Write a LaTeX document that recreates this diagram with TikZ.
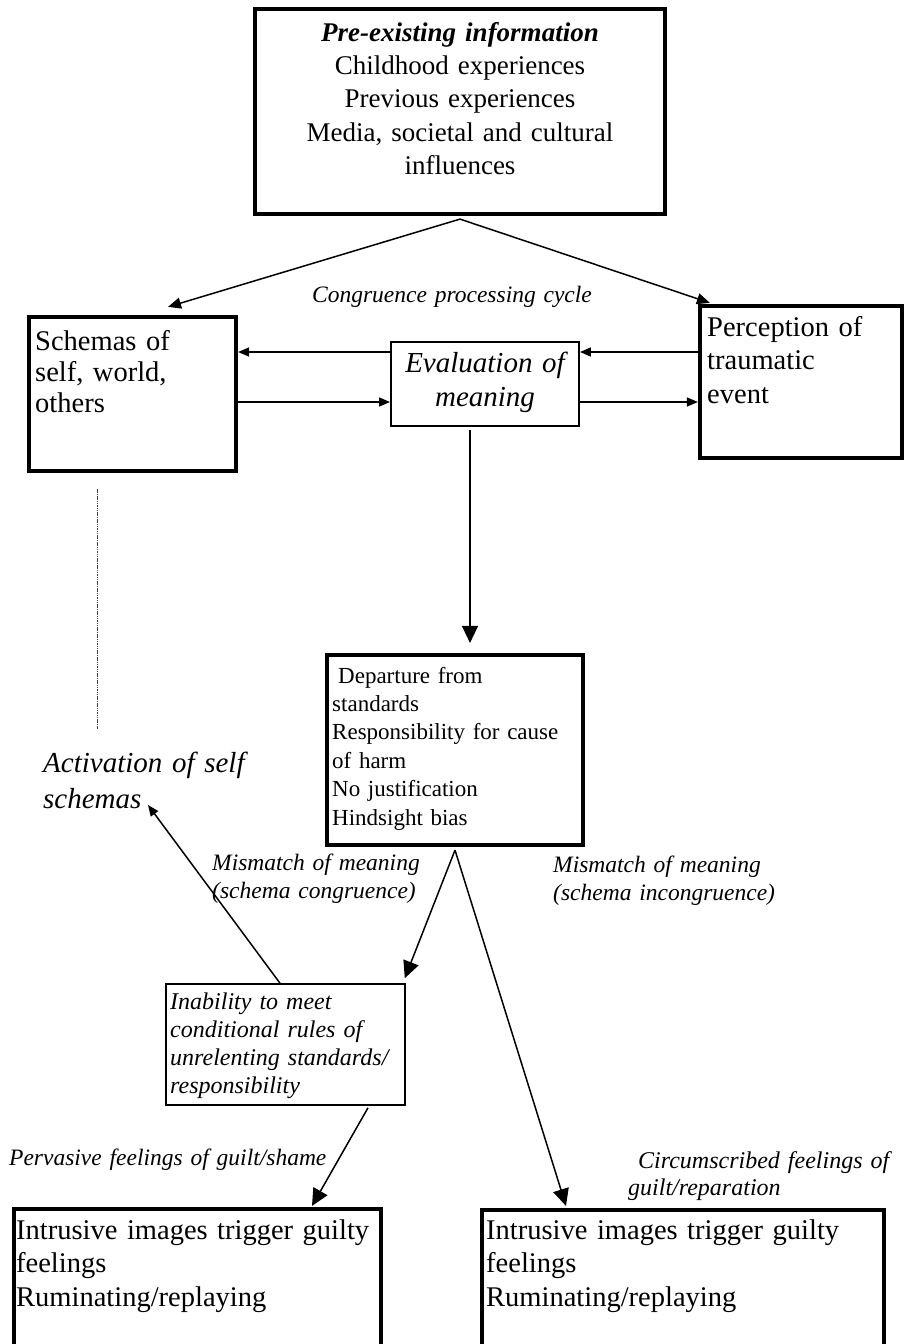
\documentclass[tikz,border=0pt]{standalone}
\usepackage{fontspec}
\setmainfont{Liberation Serif}
\usetikzlibrary{arrows.meta,calc}
\begin{document}
\begin{tikzpicture}[x=1pt,y=-1pt,
  thickbox/.style={draw, line width=4.2pt, inner sep=0pt, fill=none},
  thinbox/.style={draw, line width=1.9pt, inner sep=0pt},
  lbl/.style={inner sep=0pt, anchor=base west, align=left, text width=#1},
  lbl/.default=400pt,
  fbig/.style={font=\fontsize{28.5}{33.5}\selectfont},
  fsmall/.style={font=\fontsize{23}{28.4}\selectfont},
  fsmallit/.style={font=\fontsize{23.5}{28.6}\selectfont\itshape},
  conn/.style={line width=1.5pt},
  bigarr/.style={conn, -{Triangle[length=17pt,width=16pt]}},
  midarr/.style={conn, -{Triangle[length=13pt,width=11pt]}},
  smallarr/.style={conn, -{Triangle[length=11pt,width=9pt]}}
]
\useasboundingbox (0,0) rectangle (906,1344);
\clip (0,0) rectangle (906,1344);
\fill[white] (0,0) rectangle (906,1344);

% boxes
\node[thickbox, minimum width=410pt, minimum height=205pt] (top) at (460,111.5) {};
\node[thickbox, minimum width=207pt, minimum height=154pt] (schemas) at (132.5,394) {};
\node[thinbox, minimum width=188pt, minimum height=84pt] (eval) at (485,384) {};
\node[thickbox, minimum width=202pt, minimum height=152pt] (perception) at (801,382) {};
\node[thickbox, minimum width=256pt, minimum height=190pt] (departure) at (455,750) {};
\node[thinbox, line width=1.6pt, minimum width=239pt, minimum height=121pt] (inability) at (285.5,1044.5) {};
\node[thickbox, minimum width=367pt, minimum height=191pt] (bl) at (197.5,1304.5) {};
\node[thickbox, minimum width=402pt, minimum height=190pt] (br) at (683,1305) {};

% texts
\node[lbl=420pt, font=\fontsize{27}{33.4}\selectfont, align=center, anchor=base] (toptxt) at (460,41)
  {\textbf{\textit{Pre-existing information}}\\Childhood experiences\\Previous experiences\\Media, societal and cultural\\influences};
\node[lbl=200pt, font=\fontsize{28.5}{31}\selectfont] (schtxt) at (35,350) {Schemas of\\self, world,\\others};
\node[lbl=195pt, fbig] (pertxt) at (707,336) {Perception of\\traumatic\\event};
\node[lbl=185pt, font=\fontsize{29}{34}\selectfont\itshape, align=center, anchor=base] (evaltxt) at (485,372) {Evaluation of\\meaning};
\node[lbl=300pt, font=\fontsize{23.5}{28}\selectfont\itshape, align=center, anchor=base] (cong) at (452,302) {Congruence processing cycle};
\node[lbl=250pt, fsmall] (deptxt) at (332,683)
  {\hspace*{6pt}Departure from\\standards\\Responsibility for cause\\of harm\\No justification\\Hindsight bias};
\node[lbl=260pt, font=\fontsize{29}{36}\selectfont\itshape] (act) at (43,772) {Activation of self\\schemas};
\node[lbl=230pt, fsmallit] (mml) at (212,870) {Mismatch of meaning\\(schema congruence)};
\node[lbl=260pt, fsmallit] (mmr) at (553,872) {Mismatch of meaning\\(schema incongruence)};
\node[lbl=235pt, font=\fontsize{24}{28}\selectfont\itshape] (inabtxt) at (170,1009)
  {Inability to meet\\conditional rules of\\unrelenting standards/\\responsibility};
\node[lbl=340pt, fsmallit] (perv) at (9,1165) {Pervasive feelings of guilt/shame};
\node[lbl=275pt, font=\fontsize{24}{27}\selectfont\itshape] (circ) at (628,1168) {\hspace*{10pt}Circumscribed feelings of\\guilt/reparation};
\node[lbl=365pt, fbig] (bltxt) at (16,1239) {Intrusive images trigger guilty\\feelings\\Ruminating/replaying};
\node[lbl=395pt, fbig] (brtxt) at (486,1239) {Intrusive images trigger guilty\\feelings\\Ruminating/replaying};

% connectors
\coordinate (apex) at ([yshift=-3pt]top.south);
\draw[midarr] (apex) -- ([xshift=35.5pt,yshift=8pt]schemas.north);
\draw[midarr] (apex) -- ([xshift=12pt,yshift=1pt]perception.north west);

\coordinate (eu) at ([yshift=32pt]eval.west);
\coordinate (el) at ([yshift=-18pt]eval.west);
\coordinate (eur) at ([yshift=32pt]eval.east);
\coordinate (elr) at ([yshift=-18pt]eval.east);
\draw[smallarr] (eu) -- (eu -| schemas.east);
\draw[smallarr] (el -| schemas.east) -- (el);
\draw[smallarr] (eur -| perception.west) -- (eur);
\draw[smallarr] (elr) -- (elr -| perception.west);

\draw[bigarr] ([xshift=-15pt,yshift=-3pt]eval.south) -- ([xshift=15pt,yshift=10pt]departure.north);

\coordinate (apex2) at ([yshift=-3pt]departure.south);
\draw[bigarr] (apex2) -- ([xshift=-1pt,yshift=5pt]inability.north east);
\draw[bigarr] (apex2) -- ([xshift=-117pt,yshift=2pt]br.north);

\coordinate (acttip) at (148,805);
\draw[smallarr] ([xshift=-5.5pt]inability.north) -- (acttip);
\draw[bigarr] ([xshift=82.5pt,yshift=-2pt]inability.south) -- ([xshift=114.5pt,yshift=1pt]bl.north);

\coordinate (dotend) at (97,729);
\draw[line width=1pt, black!75, dash pattern=on 1.5pt off 0.8pt] ([xshift=-35.5pt,yshift=-16pt]schemas.south) -- (dotend);
\end{tikzpicture}
\end{document}
